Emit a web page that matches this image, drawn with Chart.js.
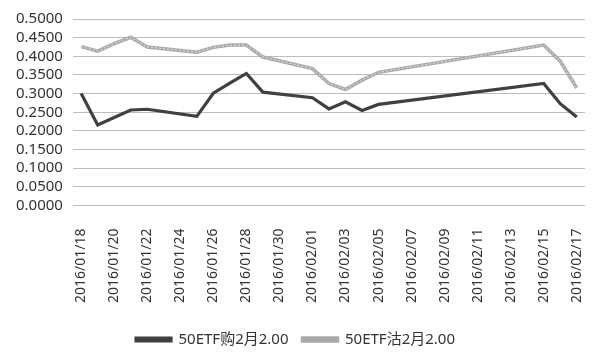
<!DOCTYPE html>
<html>
<head>
<meta charset="utf-8">
<script src="https://cdn.jsdelivr.net/npm/chart.js@4.4.1/dist/chart.umd.min.js"></script>
<style>
  html, body { margin: 0; padding: 0; background: #fff; }
  #wrap { width: 600px; height: 361px; }
</style>
</head>
<body>
<div id="wrap"><canvas id="chart" width="600" height="361"></canvas></div>
<script>
// one slot per calendar day; null = no trading (weekend / Spring Festival)
const dates = [
  '2016/01/18', '2016/01/19', '2016/01/20', '2016/01/21', '2016/01/22', '2016/01/23', '2016/01/24',
  '2016/01/25', '2016/01/26', '2016/01/27', '2016/01/28', '2016/01/29', '2016/01/30', '2016/01/31',
  '2016/02/01', '2016/02/02', '2016/02/03', '2016/02/04', '2016/02/05', '2016/02/06', '2016/02/07',
  '2016/02/08', '2016/02/09', '2016/02/10', '2016/02/11', '2016/02/12', '2016/02/13', '2016/02/14',
  '2016/02/15', '2016/02/16', '2016/02/17'
];
const callPrices = [
  0.300, 0.216, 0.236, 0.256, 0.258, null, null,
  0.239, 0.301, 0.328, 0.354, 0.304, null, null,
  0.289, 0.259, 0.278, 0.255, 0.271, null, null,
  null, null, null, null, null, null, null,
  0.327, 0.273, 0.237
];
const putPrices = [
  0.426, 0.414, 0.434, 0.451, 0.425, null, null,
  0.411, 0.424, 0.430, 0.430, 0.398, null, null,
  0.367, 0.327, 0.311, 0.336, 0.357, null, null,
  null, null, null, null, null, null, null,
  0.430, 0.387, 0.315
];
const seriesNames = ['50ETF购2月2.00', '50ETF沽2月2.00'];

const FONT = "'Noto Sans', 'Noto Sans CJK SC', sans-serif";

// light inner stroke on the put line, like the original's double line
const innerLine = {
  id: 'innerLine',
  afterDatasetsDraw(chart) {
    const pts = chart.getDatasetMeta(1).data.filter(p => !p.skip);
    const ctx = chart.ctx;
    ctx.save();
    ctx.strokeStyle = '#e6e6e6';
    ctx.lineWidth = 1;
    ctx.setLineDash([2, 2]);
    ctx.beginPath();
    pts.forEach((p, i) => i ? ctx.lineTo(p.x, p.y) : ctx.moveTo(p.x, p.y));
    ctx.stroke();
    ctx.restore();
  }
};

new Chart(document.getElementById('chart').getContext('2d'), {
  type: 'line',
  data: {
    labels: dates,
    datasets: [{
      label: seriesNames[0],
      data: callPrices,
      borderColor: '#404040',
      backgroundColor: '#404040',
      borderWidth: 3.2,
      pointRadius: 0,
      spanGaps: true,
      tension: 0
    }, {
      label: seriesNames[1],
      data: putPrices,
      borderColor: '#a9a9a9',
      backgroundColor: '#b4b4b4',
      borderWidth: 3.5,
      pointRadius: 0,
      spanGaps: true,
      tension: 0
    }]
  },
  plugins: [innerLine],
  options: {
    responsive: false,
    animation: false,
    layout: { padding: { left: 6, right: 15, top: 8, bottom: 4 } },
    scales: {
      x: {
        offset: true,
        grid: { display: false },
        border: { display: false },
        afterFit: function (scale) { scale.paddingRight = 0; },
        ticks: {
          autoSkip: false,
          minRotation: 90,
          maxRotation: 90,
          padding: 15,
          color: '#333',
          font: { family: FONT, size: 14 },
          callback: function (v, i) { return i % 2 === 0 ? dates[i] : ''; }
        }
      },
      y: {
        min: 0,
        max: 0.5,
        grid: { color: '#bdbdbd', drawTicks: false },
        border: { display: false },
        ticks: {
          stepSize: 0.05,
          autoSkip: false,
          padding: 10,
          color: '#333',
          font: { family: FONT, size: 15 },
          callback: v => v.toFixed(4)
        }
      }
    },
    plugins: {
      legend: {
        position: 'bottom',
        labels: {
          boxWidth: 35,
          boxHeight: 3,
          color: '#333',
          font: { family: FONT, size: 15 },
          padding: 14
        }
      },
      tooltip: { enabled: false }
    }
  }
});
</script>
</body>
</html>
